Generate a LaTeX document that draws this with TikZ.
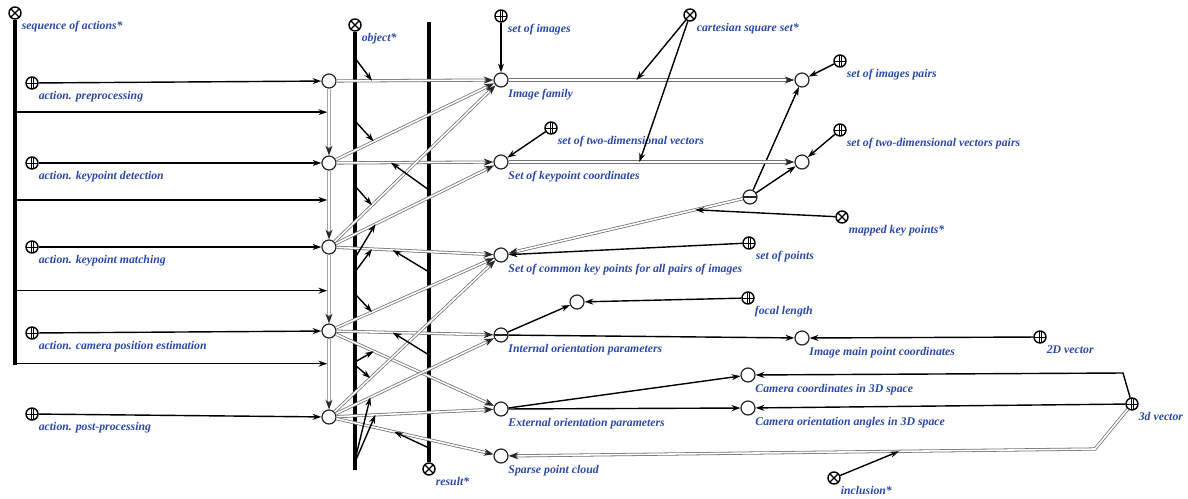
\documentclass[tikz,border=0pt]{standalone}
\usepackage{fontspec}
\setmainfont{Liberation Serif}
\usetikzlibrary{arrows.meta,positioning,calc}
\definecolor{scblue}{RGB}{42,72,168}

\begin{document}
\begin{tikzpicture}[
        x=0.02cm, y=-0.02cm,
        lblfont/.style={font=\fontsize{6.7}{8}\selectfont\bfseries\itshape, text=scblue, inner sep=0pt, text height=5pt, text depth=1.5pt},
        lbl/.style={label={[lblfont, xshift=1pt, yshift=-1.5pt]south east:#1}},
        elem/.style={circle, draw=black!85, line width=0.7pt, fill=white, minimum size=0.28cm, inner sep=0pt},
        tuple/.style={elem, path picture={\draw[line width=0.6pt] (path picture bounding box.west) -- (path picture bounding box.east);}},
        classnode/.style={circle, draw=black, line width=0.8pt, fill=white, minimum size=0.24cm, inner sep=0pt,
            path picture={\draw[line width=0.5pt] ([xshift=-0.6pt]path picture bounding box.north) -- ([xshift=-0.6pt]path picture bounding box.south)
                ([xshift=0.6pt]path picture bounding box.north) -- ([xshift=0.6pt]path picture bounding box.south)
                (path picture bounding box.west) -- (path picture bounding box.east);}},
        relnode/.style={circle, draw=black, line width=0.8pt, fill=white, minimum size=0.24cm, inner sep=0pt,
            path picture={\draw[line width=0.7pt] (path picture bounding box.north west) -- (path picture bounding box.south east)
                (path picture bounding box.north east) -- (path picture bounding box.south west);}},
        bus/.style={line width=1.8pt, draw=black},
        arrowtip/.style={-{Stealth[length=5pt,width=3.4pt]}},
        memb/.style={arrowtip, draw=black, line width=0.8pt},
        commonarc/.style={draw=black!55, line width=1.8pt, -{Stealth[length=5.5pt,width=4pt,color=black!85]},
            postaction={draw=white, line width=0.9pt, -, shorten >=5pt}},
        seqarc/.style={commonarc, draw=black!35}
    ]
    \useasboundingbox (0,0) rectangle (1188,498);

    % Buses
    \node[relnode, lbl={sequence of actions*}] (seq) at (15,13) {};
    \coordinate (seqend) at (15,365);
    \draw[bus] (seq) -- (seqend);
    \node[relnode, lbl={object*}] (obj) at (355,25) {};
    \coordinate (objend) at (355,470);
    \draw[bus] (obj) -- (objend);
    \node[relnode, lbl={result*}] (res) at (429,469) {};
    \coordinate (restop) at (429,22);
    \draw[bus] (restop) -- (res);

    % Actions and their instances
    \foreach \i/\y/\yp/\txt in {1/83/81/{action. preprocessing}, 2/163/163/{action. keypoint detection},
            3/247/247/{action. keypoint matching}, 4/333/331/{action. camera position estimation},
            5/414/417/{action. post-processing}}{
        \node[classnode, lbl=\txt] (a\i) at (32,\y) {};
        \node[elem] (p\i) at (329,\yp) {};
        \draw[memb] (a\i) -- (p\i);
    }
    \foreach \i/\j in {1/2,2/3,3/4,4/5}
        \draw[seqarc] (p\i) -- (p\j);

    \coordinate (s1) at ($(p1)!0.38!(p2)$);
    \coordinate (s2) at ($(p2)!0.44!(p3)$);
    \coordinate (s3) at ($(p3)!0.52!(p4)$);
    \coordinate (s4) at ($(p4)!0.38!(p5)$);
    \foreach \s in {s1,s2,s3,s4}
        \draw[memb, shorten >=1pt] (seq |- \s) -- (\s);

    % Entities
    \node[elem, lbl={Image family}] (img) at (501,80) {};
    \node[elem, lbl={Set of keypoint coordinates}] (kp) at (501,162) {};
    \node[elem, lbl={Set of common key points for all pairs of images}] (ckp) at (501,255) {};
    \node[tuple, lbl={Internal orientation parameters}] (intp) at (501,335) {};
    \node[elem, lbl={External orientation parameters}] (extp) at (501,409) {};
    \node[elem, lbl={Sparse point cloud}] (cloud) at (501,456) {};
    \node[elem] (focal) at (577,302) {};
    \node[elem, lbl={Image main point coordinates}] (mainpt) at (802,338) {};
    \node[elem, lbl={Camera coordinates in 3D space}] (camxyz) at (748,375) {};
    \node[elem, lbl={Camera orientation angles in 3D space}] (camang) at (748,408) {};
    \node[elem] (imgpair) at (802,80) {};
    \node[elem] (kppair) at (802,162) {};
    \node[tuple] (map) at (750,197) {};

    % Classes and relations
    \node[classnode, lbl={set of images}] (setimg) at (501,16) {};
    \node[classnode, lbl={set of two-dimensional vectors}] (setvec) at (551,128) {};
    \node[classnode, lbl={set of points}] (setpts) at (749,243) {};
    \node[classnode, lbl={focal length}] (flen) at (748,298) {};
    \node[classnode, lbl={2D vector}] (vec2) at (1040,337) {};
    \node[classnode, lbl={3d vector}] (vec3) at (1132,404) {};
    \node[classnode, lbl={set of images pairs}] (setimgpair) at (840,61) {};
    \node[classnode, lbl={set of two-dimensional vectors pairs}] (setvecpair) at (840,130) {};
    \node[relnode, lbl={cartesian square set*}] (cart) at (690,15) {};
    \node[relnode, lbl={mapped key points*}] (mapped) at (842,217) {};
    \node[relnode, lbl={inclusion*}] (incl) at (834,478) {};

    % Instances to entities
    \foreach \p/\e in {p1/img, p2/img, p2/kp, p3/img, p3/kp, p3/ckp, p4/ckp, p4/intp, p4/extp,
            p5/ckp, p5/intp, p5/extp, p5/cloud}
        \draw[commonarc] (\p) -- (\e);

    % Object and result roles
    \coordinate (ob1) at (355,58);  \coordinate (ot1) at ($(p1)!0.25!(img)$);
    \coordinate (ob2) at (355,121); \coordinate (ot2) at ($(p2)!0.26!(img)$);
    \coordinate (ob3) at (355,186); \coordinate (ot3) at ($(p3)!0.25!(img)$);
    \coordinate (ob4) at (355,258); \coordinate (ot4) at ($(p3)!0.27!(kp)$);
    \coordinate (ob5) at (355,272); \coordinate (ot5) at ($(p3)!0.25!(ckp)$);
    \coordinate (ob6) at (355,294); \coordinate (ot6) at ($(p4)!0.25!(ckp)$);
    \coordinate (ob7) at (355,362); \coordinate (ot7) at ($(p4)!0.26!(extp)$);
    \coordinate (ob8) at (355,365); \coordinate (ot8) at ($(p5)!0.24!(ckp)$);
    \coordinate (ob9) at (355,460); \coordinate (ot9) at ($(p5)!0.24!(intp)$);
    \coordinate (ob10) at (355,462); \coordinate (ot10) at ($(p5)!0.27!(extp)$);
    \foreach \k in {1,...,10}
        \draw[memb] (ob\k) -- (ot\k);

    \coordinate (rb1) at (429,190); \coordinate (rt1) at ($(p2)!0.36!(kp)$);
    \coordinate (rb2) at (429,272); \coordinate (rt2) at ($(p3)!0.37!(ckp)$);
    \coordinate (rb3) at (429,355); \coordinate (rt3) at ($(p4)!0.37!(intp)$);
    \coordinate (rb4) at (429,448); \coordinate (rt4) at ($(p5)!0.38!(cloud)$);
    \foreach \k in {1,...,4}
        \draw[memb] (rb\k) -- (rt\k);

    % Right part
    \draw[memb] (setimg) -- (img);
    \draw[memb] (setvec) -- (kp);
    \draw[memb] (setpts) -- (ckp);
    \draw[memb] (flen) -- (focal);
    \draw[memb] (intp) -- (focal);
    \draw[memb] (intp) -- (mainpt);
    \draw[memb] (vec2) -- (mainpt);
    \draw[memb] (extp) -- (camxyz);
    \draw[memb] (extp) -- (camang);
    \draw[memb] (vec3) -- (camang);
    \coordinate (vec3up) at (1123,373);
    \draw[memb] (vec3) -- (vec3up) -- (camxyz);
    \draw[memb] (setimgpair) -- (imgpair);
    \draw[memb] (setvecpair) -- (kppair);
    \draw[memb] (map) -- (imgpair);
    \draw[memb] (map) -- (kppair);

    \draw[commonarc] (img) -- (imgpair);
    \draw[commonarc] (kp) -- (kppair);
    \coordinate (sq1) at ($(img)!0.45!(imgpair)$);
    \coordinate (sq2) at ($(kp)!0.46!(kppair)$);
    \draw[memb] (cart) -- (sq1);
    \draw[memb] (cart) -- (sq2);

    \draw[commonarc] (map) -- (ckp);
    \coordinate (mappt) at ($(map)!0.22!(ckp)$);
    \draw[memb] (mapped) -- (mappt);

    \coordinate (vec3low) at (1095,449);
    \draw[commonarc] (vec3) -- (vec3low) -- (cloud);
    \coordinate (inclpt) at ($(vec3low)!0.33!(cloud)$);
    \draw[memb] (incl) -- (inclpt);
\end{tikzpicture}
\end{document}
